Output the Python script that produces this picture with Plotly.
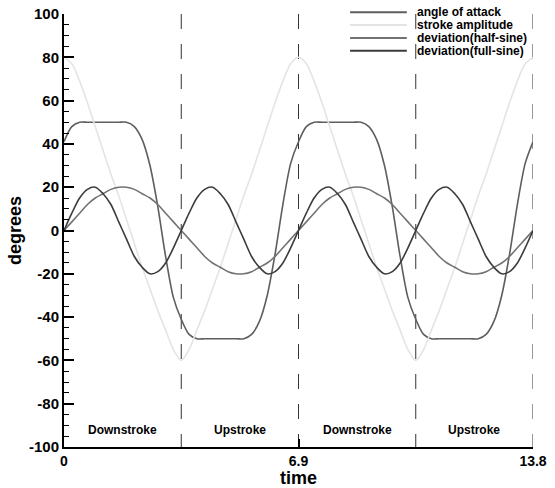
import plotly.graph_objects as go

# ---- data ----
time = [0, 0.23, 0.46, 0.69, 0.92, 1.15, 1.38, 1.61, 1.84, 2.07, 2.3, 2.53, 2.76, 2.99, 3.22,
        3.45, 3.68, 3.91, 4.14, 4.37, 4.6, 4.83, 5.06, 5.29, 5.52, 5.75, 5.98, 6.21, 6.44, 6.67,
        6.9, 7.13, 7.36, 7.59, 7.82, 8.05, 8.28, 8.51, 8.74, 8.97, 9.2, 9.43, 9.66, 9.89, 10.12,
        10.35, 10.58, 10.81, 11.04, 11.27, 11.5, 11.73, 11.96, 12.19, 12.42, 12.65, 12.88, 13.11,
        13.34, 13.57, 13.8]

angle_of_attack = [41, 48, 50, 50, 50, 50, 50, 50, 50, 48, 42, 30, 11, -12, -31,
                   -41, -48, -50, -50, -50, -50, -50, -50, -50, -48, -42, -30, -11, 12, 31,
                   41, 48, 50, 50, 50, 50, 50, 50, 50, 48, 42, 30, 11, -12, -31,
                   -41, -48, -50, -50, -50, -50, -50, -50, -50, -48, -42, -30, -11, 12, 31,
                   41]

stroke_amplitude = [80, 77, 69, 59, 48, 37, 26, 16, 5, -6, -17, -27, -37, -46, -55,
                    -60, -55, -46, -37, -27, -17, -6, 5, 16, 26, 37, 48, 59, 69, 77,
                    80, 77, 69, 59, 48, 37, 26, 16, 5, -6, -17, -27, -37, -46, -55,
                    -60, -55, -46, -37, -27, -17, -6, 5, 16, 26, 37, 48, 59, 69, 77,
                    80]

deviation_half = [0, 4, 8, 12, 15, 17, 19, 20, 20, 19, 17, 15, 12, 8, 4,
                  0, -4, -8, -12, -15, -17, -19, -20, -20, -19, -17, -15, -12, -8, -4,
                  0, 4, 8, 12, 15, 17, 19, 20, 20, 19, 17, 15, 12, 8, 4,
                  0, -4, -8, -12, -15, -17, -19, -20, -20, -19, -17, -15, -12, -8, -4,
                  0]

deviation_full = [0, 8, 15, 19, 20, 17, 12, 4, -4, -12, -17, -20, -19, -15, -8,
                  0, 8, 15, 19, 20, 17, 12, 4, -4, -12, -17, -20, -19, -15, -8,
                  0, 8, 15, 19, 20, 17, 12, 4, -4, -12, -17, -20, -19, -15, -8,
                  0, 8, 15, 19, 20, 17, 12, 4, -4, -12, -17, -20, -19, -15, -8,
                  0]

stroke_boundaries = [0, 3.45, 6.9, 10.35, 13.8]
phase_labels = ["Downstroke", "Upstroke", "Downstroke", "Upstroke"]
x_tickvals = [0, 6.9, 13.8]
x_ticktext = ["0", "6.9", "13.8"]
y_tickvals = [-100, -80, -60, -40, -20, 0, 20, 40, 60, 80, 100]
y_ticktext = ["-100", "-80", "-60", "-40", "-20", "0", "20", "40", "60", "80", "100"]

series_names = ["angle of attack", "stroke amplitude", "deviation(half-sine)", "deviation(full-sine)"]
series_values = [angle_of_attack, stroke_amplitude, deviation_half, deviation_full]
series_colors = ["#5e5e5e", "#e4e4e4", "#727272", "#3c3c3c"]

FONT = "Liberation Sans, Arial, sans-serif"

fig = go.Figure()
for name, vals, color in zip(series_names, series_values, series_colors):
    fig.add_trace(go.Scatter(
        x=time, y=vals, name=name, mode="lines", showlegend=False,
        line=dict(color=color, width=1.6, shape="spline", smoothing=0.8),
    ))

# vertical dashed stroke-boundary lines
for b in stroke_boundaries[1:]:
    fig.add_shape(type="line", xref="x", yref="y", x0=b, x1=b, y0=100, y1=-100,
                  line=dict(color="#333333", width=1, dash="15px,15px"), layer="below")

# phase labels
for i, lab in enumerate(phase_labels):
    mid = (stroke_boundaries[i] + stroke_boundaries[i + 1]) / 2
    fig.add_annotation(x=mid, y=-92, text=lab, showarrow=False, xref="x", yref="y",
                       font=dict(family=FONT, size=12, color="black", weight="bold"))

# compact legend (key line + label) in the top-right corner
LEG_X0, LEG_X1, LEG_TX, LEG_Y0, LEG_DY = 0.610, 0.731, 0.749, 1.004, 0.0296
for i, (name, color) in enumerate(zip(series_names, series_colors)):
    yy = LEG_Y0 - i * LEG_DY
    fig.add_shape(type="line", xref="paper", yref="paper", x0=LEG_X0, x1=LEG_X1, y0=yy, y1=yy,
                  line=dict(color=color, width=2))
    fig.add_annotation(x=LEG_TX, y=yy, xref="paper", yref="paper", text=name, showarrow=False,
                       xanchor="left", yanchor="middle",
                       font=dict(family=FONT, size=12, color="black", weight="bold"))

fig.update_layout(
    width=555, height=488,
    margin=dict(l=64, r=22, t=14, b=41, autoexpand=False),
    paper_bgcolor="white", plot_bgcolor="white",
    font=dict(family=FONT, color="black"),
    showlegend=False,
    xaxis=dict(range=[0, 13.8], tickvals=x_tickvals, ticktext=x_ticktext,
               ticks="inside", ticklen=8, tickwidth=1.5, tickcolor="black",
               showline=True, linewidth=2, linecolor="black",
               showgrid=False, zeroline=False, automargin=False,
               tickfont=dict(family=FONT, size=14, color="black", weight="bold"),
               title=dict(text="time", standoff=2,
                          font=dict(family=FONT, size=18, color="black", weight="bold"))),
    yaxis=dict(range=[-100, 100], tickvals=y_tickvals, ticktext=y_ticktext,
               ticks="inside", ticklen=10, tickwidth=1.5, tickcolor="black",
               minor=dict(tickvals=[v for v in range(-95, 100, 5) if v % 20 != 0],
                          ticks="inside", ticklen=5, tickwidth=1, tickcolor="black"),
               showline=True, linewidth=2, linecolor="black",
               showgrid=False, zeroline=False, automargin=False,
               tickfont=dict(family=FONT, size=15, color="black", weight="bold"),
               title=dict(text="degrees", standoff=3,
                          font=dict(family=FONT, size=18, color="black", weight="bold"))),
)

fig.write_html("out.html")
